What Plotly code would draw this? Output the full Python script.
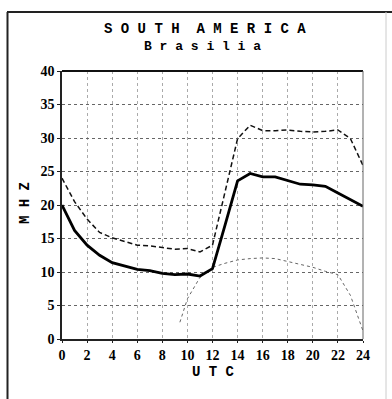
import plotly.graph_objects as go

hours = list(range(0, 25))
upper = [24, 20.5, 17.9, 15.9, 15.1, 14.5, 14.0, 13.9, 13.7, 13.4, 13.5, 13.0, 14.0,
         22.0, 29.9, 31.9, 31.1, 31.1, 31.2, 31.0, 30.9, 31.0, 31.2, 29.9, 25.9]
main = [20, 16.2, 14.0, 12.5, 11.4, 10.9, 10.4, 10.2, 9.8, 9.6, 9.7, 9.4, 10.5,
        17.0, 23.6, 24.7, 24.2, 24.2, 23.7, 23.1, 23.0, 22.8, 21.8, 20.8, 19.8]
low_hours = [9.4, 10, 11, 12, 13, 14, 15, 16, 17, 18, 19, 20, 21, 22, 23, 24]
lower = [2.5, 6.0, 9.2, 10.7, 11.3, 11.8, 12.0, 12.1, 12.0, 11.6, 11.2, 10.7, 10.1, 9.6, 6.5, 1.2]

title1 = "S O U T H  A M E R I C A"
title2 = "B r a s i l i a"
x_title = "U T C"
y_title = "M H Z"

W, H = 392, 399
L, R, T, B = 62, 363, 71, 339


def px(x):
    return (x - L) / (R - L)


def py(y):
    return (B - y) / (B - T)


fig = go.Figure()
fig.add_trace(go.Scatter(x=low_hours, y=lower, mode="lines",
                         line=dict(color="#666", width=1, dash="dot"), showlegend=False))
fig.add_trace(go.Scatter(x=hours, y=upper, mode="lines",
                         line=dict(color="#111", width=1.5, dash="5px,3px"), showlegend=False))
fig.add_trace(go.Scatter(x=hours, y=main, mode="lines",
                         line=dict(color="#000", width=2.8), showlegend=False))

tickfont = dict(family="Liberation Serif", size=14, color="#000", weight="bold")
fig.update_xaxes(range=[0, 24], tickvals=list(range(0, 25, 2)), showgrid=True,
                 gridcolor="#aaa", griddash="dot", gridwidth=1,
                 showline=True, linecolor="#222", linewidth=1.5,
                 ticks="outside", ticklen=2, tickcolor="#222",
                 tickfont=tickfont, zeroline=False, fixedrange=True)
fig.update_yaxes(range=[0, 40], tickvals=list(range(0, 41, 5)), showgrid=True,
                 gridcolor="#666", griddash="dot", gridwidth=1,
                 showline=True, linecolor="#222", linewidth=1.5,
                 ticks="outside", ticklen=3, tickcolor="#222",
                 tickfont=tickfont, zeroline=False, fixedrange=True)

shapes = [
    dict(type="line", xref="paper", yref="paper", x0=0, x1=1, y0=1, y1=1,
         line=dict(color="#111", width=2.2)),
    dict(type="line", xref="paper", yref="paper", x0=1, x1=1, y0=0, y1=1,
         line=dict(color="#666", width=1)),
    dict(type="line", xref="paper", yref="paper", x0=px(7.5), x1=px(7.5), y0=py(12), y1=py(400),
         line=dict(color="#222", width=2)),
    dict(type="line", xref="paper", yref="paper", x0=px(7), x1=px(392), y0=py(12), y1=py(12),
         line=dict(color="#222", width=2)),
    dict(type="line", xref="paper", yref="paper", x0=px(386), x1=px(386), y0=py(12), y1=py(400),
         line=dict(color="#ccc", width=1)),
]

mono14 = dict(family="Liberation Mono", size=14, color="#000", weight="bold")
mono13 = dict(family="Liberation Mono", size=13, color="#000", weight="bold")
annotations = [
    dict(text=title1.replace(" ", "\u00a0"), x=px(205), y=py(29), xref="paper", yref="paper",
         showarrow=False, font=mono14, xanchor="center", yanchor="middle"),
    dict(text=title2.replace(" ", "\u00a0"), x=px(202), y=py(47), xref="paper", yref="paper",
         showarrow=False, font=mono13, xanchor="center", yanchor="middle"),
    dict(text=x_title.replace(" ", "\u00a0"), x=px(213), y=py(372), xref="paper", yref="paper",
         showarrow=False, font=mono14, xanchor="center", yanchor="middle"),
    dict(text=y_title.replace(" ", "\u00a0"), x=px(25), y=py(203), xref="paper", yref="paper",
         showarrow=False, font=mono14, xanchor="center", yanchor="middle", textangle=-90),
]

fig.update_layout(width=W, height=H, margin=dict(l=L, r=W - R, t=T, b=H - B),
                  paper_bgcolor="white", plot_bgcolor="white",
                  shapes=shapes, annotations=annotations, showlegend=False)

fig.write_html("out.html", config={"displayModeBar": False},
               post_script="document.body.style.margin='0';document.body.style.overflow='hidden';")
